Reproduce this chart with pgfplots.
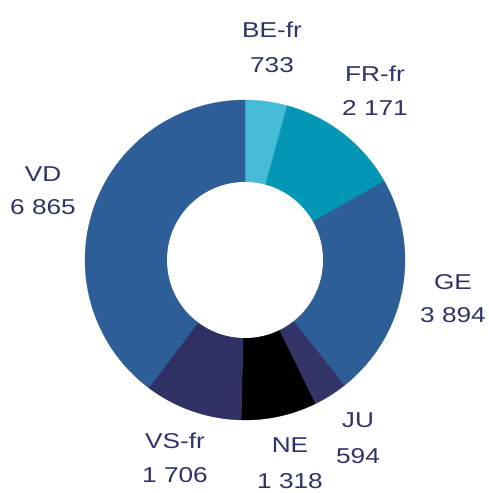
\documentclass[border=0pt]{standalone}
\usepackage{pgfplots}
\pgfplotsset{compat=1.18}
\usepackage{pgfplotstable}
\usepackage{fontspec}
\setmainfont{Liberation Sans}[FakeStretch=1.22]
\definecolor{cBE}{HTML}{45BBD7}
\definecolor{cFR}{HTML}{0496B5}
\definecolor{cGE}{HTML}{2E5E98}
\definecolor{cJU}{HTML}{333568}
\definecolor{cNE}{HTML}{000000}
\definecolor{cVS}{HTML}{2F3064}
\definecolor{cVD}{HTML}{2E5E98}
\definecolor{txt}{HTML}{2F3369}

\pgfplotstableread{
label value
BE-fr 733
FR-fr 2171
GE 3894
JU 594
NE 1318
VS-fr 1706
VD 6865
}\data

% total
\def\total{0}
\foreach \i in {0,...,6}{%
  \pgfplotstablegetelem{\i}{value}\of\data
  \xdef\total{\the\numexpr\total+\pgfplotsretval\relax}}
\def\cum{0}

\newcommand\slice[2]{%
  \pgfplotstablegetelem{#1}{value}\of\data
  \edef\tmpA{\the\numexpr\cum*3600/\total\relax}%
  \xdef\cum{\the\numexpr\cum+\pgfplotsretval\relax}%
  \edef\tmpB{\the\numexpr\cum*3600/\total\relax}%
  \pgfmathsetmacro\aS{90-\tmpA/10}%
  \pgfmathsetmacro\aE{90-\tmpB/10}%
  \addplot[fill=#2, draw=#2, line width=0.3pt, domain=\aE:\aS, samples=80, variable=\t]
    ({245+160*cos(\t)},{233+160*sin(\t)}) -- (axis cs:245,233) -- cycle;
}
\newcommand\lab[5]{%
  \node[anchor=base, text=txt, inner sep=0pt, font=\fontsize{21.5}{25}\selectfont] at (axis cs:#1,{493-#2}) {#3};
  \node[anchor=base, text=txt, inner sep=0pt, font=\fontsize{21.5}{25}\selectfont] at (axis cs:#1,{493-#4}) {#5};
}

\begin{document}
\begin{tikzpicture}
\begin{axis}[x=1pt, y=1pt, xmin=0, xmax=489, ymin=0, ymax=493,
  hide axis, clip=false, axis line style={draw=none}]
\path (axis cs:0,0) rectangle (axis cs:489,493);
\slice{0}{cBE}
\slice{1}{cFR}
\slice{2}{cGE}
\slice{3}{cJU}
\slice{4}{cNE}
\slice{5}{cVS}
\slice{6}{cVD}
\fill[white] (axis cs:245,233) circle[radius=78];
\lab{272}{38}{BE-fr}{73}{733}
\lab{375}{82}{FR-fr}{116}{2 171}
\lab{43}{182}{VD}{215}{6 865}
\lab{453}{290}{GE}{323}{3 894}
\lab{175}{448}{VS-fr}{483}{1 706}
\lab{290}{453}{NE}{488}{1 318}
\lab{358}{428}{JU}{463}{594}
\end{axis}
\end{tikzpicture}
\end{document}
